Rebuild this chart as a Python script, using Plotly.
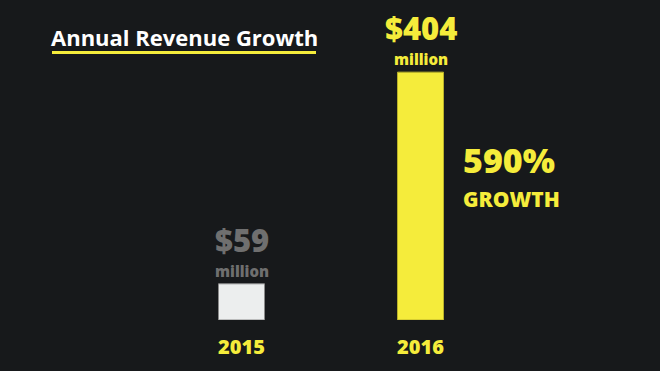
import plotly.graph_objects as go

# ---- data ----
years = ["2015", "2016"]
revenue_musd = [59, 404]
growth_label = "590%"
growth_word = "GROWTH"
title_text = "Annual Revenue Growth"
unit_word = "million"

# ---- style ----
BG = "#17191b"
YELLOW = "#f5ec3b"
GRAY_TXT = "#6f6f6f"
BAR_FILL = ["#eceeee", YELLOW]
BAR_LINE = ["#8a8a8a", "#b8b02a"]
LABEL_COLORS = [GRAY_TXT, YELLOW]
FONT = "Open Sans"

W, H = 660, 371
L, R, T, B = 152, 150, 20, 51
PW, PH = W - L - R, H - T - B


def px(x):
    return (x - L) / PW


def py(y):
    return (H - B - y) / PH


fig = go.Figure()
fig.add_trace(go.Bar(
    x=years, y=revenue_musd,
    marker=dict(color=BAR_FILL, line=dict(color=BAR_LINE, width=1)),
    width=0.257, hoverinfo="skip",
))

ann = []
for i, (v, c) in enumerate(zip(revenue_musd, LABEL_COLORS)):
    ann.append(dict(x=i, y=v, xref="x", yref="y", text=unit_word,
                    showarrow=False, yanchor="bottom", yshift=2, borderpad=0,
                    font=dict(family=FONT, size=15, color=c, weight=800)))
    ann.append(dict(x=i, y=v, xref="x", yref="y", text=f"${v}",
                    showarrow=False, yanchor="bottom", yshift=22, borderpad=0,
                    font=dict(family=FONT, size=31, color=c, weight=800)))

ann.append(dict(x=px(462), y=py(160), xref="paper", yref="paper",
                text=growth_label, showarrow=False, xanchor="left", yanchor="middle",
                borderpad=0,
                font=dict(family=FONT, size=34, color=YELLOW, weight=800)))
ann.append(dict(x=px(462), y=py(199), xref="paper", yref="paper",
                text=growth_word, showarrow=False, xanchor="left", yanchor="middle",
                borderpad=0,
                font=dict(family=FONT, size=21, color=YELLOW, weight=800)))
ann.append(dict(x=px(50), y=py(36.5), xref="paper", yref="paper",
                text=title_text, showarrow=False, xanchor="left", yanchor="middle",
                borderpad=0,
                font=dict(family=FONT, size=22, color="#ffffff", weight=700)))

fig.update_layout(
    width=W, height=H,
    margin=dict(l=L, r=R, t=T, b=B, pad=0),
    paper_bgcolor=BG, plot_bgcolor=BG,
    showlegend=False,
    annotations=ann,
    shapes=[dict(type="line", xref="paper", yref="paper",
                 x0=px(52), x1=px(316), y0=py(52.5), y1=py(52.5),
                 line=dict(color=YELLOW, width=3))],
    xaxis=dict(type="category", range=[-0.5, 1.5], showgrid=False, zeroline=False,
               showline=False, ticks="", ticklabelstandoff=13,
               tickfont=dict(family=FONT, size=20, color=YELLOW, weight=800)),
    yaxis=dict(range=[0, 489], visible=False, showgrid=False, zeroline=False),
)

fig.write_html(
    "out.html",
    config={"displayModeBar": False},
    post_script="document.body.style.margin='0';document.body.style.background='#17191b';",
)
